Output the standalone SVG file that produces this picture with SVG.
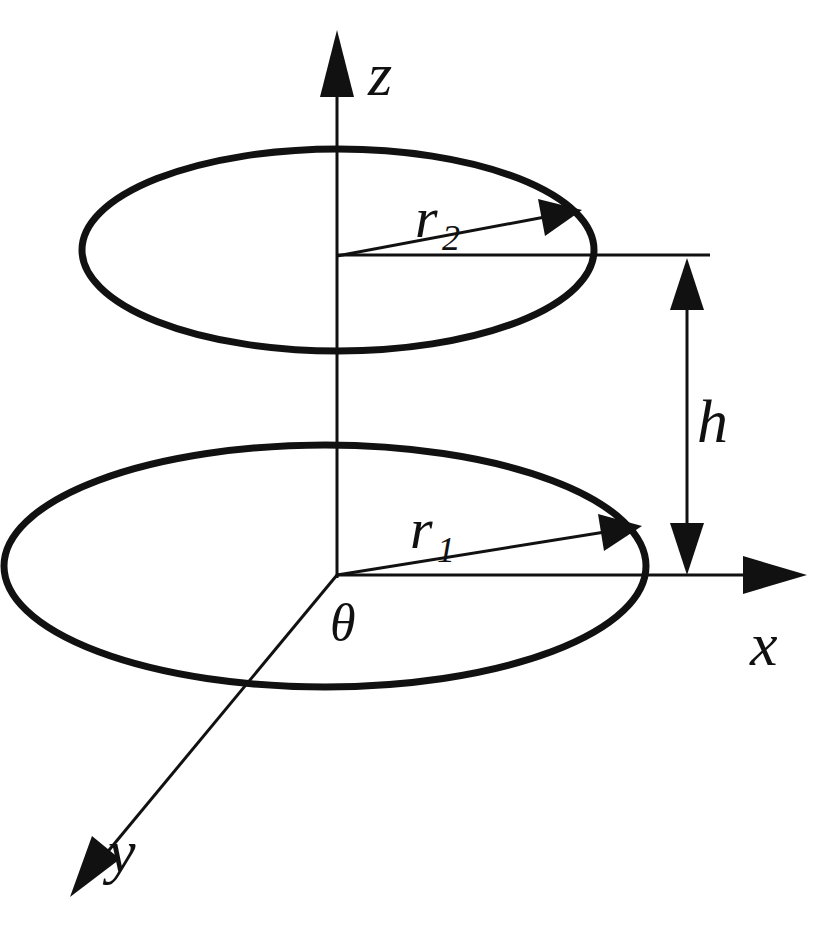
<svg xmlns="http://www.w3.org/2000/svg" width="822" height="936" viewBox="0 0 822 936">
<style>
.t{font-family:"Liberation Serif",serif;font-style:italic;fill:#111}
.e{fill:none;stroke:#111;stroke-width:7}
.l{stroke:#111;stroke-width:3;fill:none}
</style>
<rect width="822" height="936" fill="#fff"/>
<g id="rings">
<ellipse class="e" cx="338" cy="250" rx="256" ry="101"/>
<ellipse class="e" cx="325" cy="566" rx="321" ry="121"/>
</g>
<g id="connectors">
<line class="l" x1="337" y1="578" x2="337" y2="90"/>
<polygon points="337,30 320,97 354,97" fill="#111"/>
<line class="l" x1="337" y1="575" x2="750" y2="575"/>
<polygon points="807,575 743,556 743,594" fill="#111"/>
<line class="l" x1="337" y1="575" x2="105" y2="855"/>
<polygon points="70,897 92,836 120,859" fill="#111"/>
<line class="l" x1="337" y1="256" x2="545" y2="217"/>
<polygon points="582,210 538,199 545,236" fill="#111"/>
<line class="l" x1="337" y1="255" x2="710" y2="255"/>
<line class="l" x1="337" y1="575" x2="605" y2="532"/>
<polygon points="642,526 598,514 604,551" fill="#111"/>
<line class="l" x1="687" y1="300" x2="687" y2="535"/>
<polygon points="687,258 670,310 704,310" fill="#111"/>
<polygon points="687,575 670,523 704,523" fill="#111"/>
</g>
<g id="labels">
<text class="t" x="368" y="95" font-size="62">z</text>
<text class="t" x="415" y="237" font-size="58">r</text>
<text class="t" x="442" y="250" font-size="36">2</text>
<text class="t" x="697" y="442" font-size="62">h</text>
<text class="t" x="410" y="548" font-size="58">r</text>
<text class="t" x="437" y="562" font-size="36">1</text>
<text class="t" x="330" y="640" font-size="52">θ</text>
<text class="t" x="750" y="665" font-size="62">x</text>
<text class="t" x="108" y="872" font-size="62">y</text>
</g>
</svg>
